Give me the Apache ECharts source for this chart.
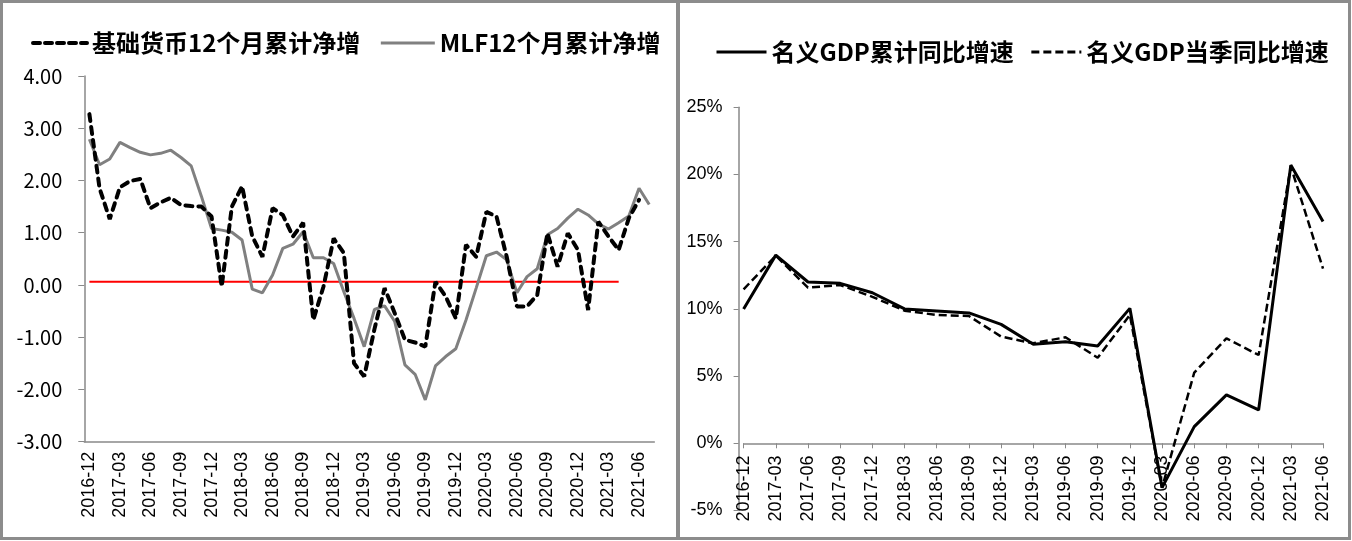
<!DOCTYPE html>
<html>
<head>
<meta charset="utf-8">
<script src="https://cdn.jsdelivr.net/npm/echarts@6/dist/echarts.min.js"></script>
<style>
html,body{margin:0;padding:0;background:#fff;}
#c{width:1352px;height:541px;}
</style>
</head>
<body>
<div id="c"></div>
<script>
// ---- Left panel: monthly ----
var monthLabels = ['2016-12','2017-01','2017-02','2017-03','2017-04','2017-05','2017-06','2017-07','2017-08','2017-09','2017-10','2017-11','2017-12',
'2018-01','2018-02','2018-03','2018-04','2018-05','2018-06','2018-07','2018-08','2018-09','2018-10','2018-11','2018-12',
'2019-01','2019-02','2019-03','2019-04','2019-05','2019-06','2019-07','2019-08','2019-09','2019-10','2019-11','2019-12',
'2020-01','2020-02','2020-03','2020-04','2020-05','2020-06','2020-07','2020-08','2020-09','2020-10','2020-11','2020-12',
'2021-01','2021-02','2021-03','2021-04','2021-05','2021-06','2021-07'];
var baseMoney = [3.27,1.85,1.26,1.87,1.99,2.03,1.47,1.58,1.67,1.53,1.51,1.50,1.31,-0.03,1.50,1.89,0.93,0.54,1.47,1.34,0.93,1.19,-0.67,-0.03,0.89,
0.61,-1.50,-1.75,-0.85,-0.06,-0.54,-1.05,-1.10,-1.18,0.06,-0.22,-0.64,0.77,0.54,1.40,1.31,0.54,-0.41,-0.41,-0.19,0.99,0.35,0.99,0.67,
-0.48,1.21,0.93,0.67,1.28,1.63];
var mlf = [2.79,2.30,2.41,2.73,2.63,2.54,2.49,2.52,2.58,2.44,2.28,1.70,1.08,1.05,1.01,0.86,-0.08,-0.15,0.19,0.70,0.78,1.02,0.52,0.52,0.41,
-0.13,-0.64,-1.18,-0.47,-0.40,-0.70,-1.53,-1.71,-2.20,-1.55,-1.37,-1.22,-0.67,-0.06,0.56,0.63,0.48,-0.15,0.16,0.31,0.96,1.08,1.28,1.45,
1.34,1.17,1.07,1.19,1.32,1.85,1.54];
var refLine = [0.06,0.06,0.06,0.06,0.06,0.06,0.06,0.06,0.06,0.06,0.06,0.06,0.06,0.06,0.06,0.06,0.06,0.06,0.06,0.06,0.06,0.06,0.06,0.06,0.06,
0.06,0.06,0.06,0.06,0.06,0.06,0.06,0.06,0.06,0.06,0.06,0.06,0.06,0.06,0.06,0.06,0.06,0.06,0.06,0.06,0.06,0.06,0.06,0.06,0.06,0.06,0.06,0.06];
var leftYTicks = {min:-3, max:4, interval:1};

// ---- Right panel: quarterly ----
var quarterLabels = ['2016-12','2017-03','2017-06','2017-09','2017-12','2018-03','2018-06','2018-09','2018-12','2019-03','2019-06','2019-09','2019-12',
'2020-03','2020-06','2020-09','2020-12','2021-03','2021-06'];
var gdpCum = [10.0,14.0,12.0,11.9,11.2,10.0,9.85,9.7,8.85,7.37,7.56,7.24,10.04,-3.3,1.24,3.6,2.48,20.7,16.5];
var gdpQtr = [11.46,13.96,11.58,11.78,10.9,9.87,9.55,9.47,7.94,7.44,7.89,6.37,9.55,-3.3,5.26,7.81,6.57,20.6,13.0];
var rightYTicks = {min:-5, max:25, interval:5};

var names = {bm:'基础货币12个月累计净增', mlf:'MLF12个月累计净增', cum:'名义GDP累计同比增速', qtr:'名义GDP当季同比增速'};

var chart = echarts.init(document.getElementById('c'), null, {renderer:'canvas'});
var cjk = "'Noto Sans CJK SC', sans-serif";
var lat = "'Liberation Sans', Arial, sans-serif";
var axisGray = '#898989';

chart.setOption({
  animation:false,
  backgroundColor:'#fff',
  graphic:[
    {type:'rect', shape:{x:1.5, y:1.5, width:676, height:537}, style:{fill:null, stroke:'#8c8c8c', lineWidth:3}, silent:true, z:-1},
    {type:'rect', shape:{x:678.5, y:1.5, width:671, height:537}, style:{fill:null, stroke:'#8c8c8c', lineWidth:3}, silent:true, z:-1}
  ],
  legend:[
    {data:[
       {name:names.bm, lineStyle:{color:'#000', width:4, type:[7,5]}},
       {name:names.mlf, lineStyle:{color:'#808080', width:3}}
     ], left:26, top:26, itemWidth:54, itemHeight:12, itemGap:19,
     itemStyle:{opacity:0},
     textStyle:{fontFamily:cjk, fontSize:24, fontWeight:'bold', color:'#000'}},
    {data:[
       {name:names.cum, lineStyle:{color:'#000', width:3}},
       {name:names.qtr, lineStyle:{color:'#000', width:3, type:[8,4]}}
     ], left:710, top:35, itemWidth:50, itemHeight:12, itemGap:16,
     itemStyle:{opacity:0},
     textStyle:{fontFamily:cjk, fontSize:24, fontWeight:'bold', color:'#000'}}
  ],
  grid:[
    {left:84.3, top:76, width:570, height:365.7, containLabel:false, outerBoundsMode:'none'},
    {left:743.6, top:107.3, width:579.4, height:403.2, containLabel:false, outerBoundsMode:'none'}
  ],
  xAxis:[
    {gridIndex:0, type:'category', data:monthLabels, boundaryGap:true,
     axisLine:{onZero:false, lineStyle:{color:axisGray, width:1.5}},
     axisTick:{interval:2, length:6, lineStyle:{color:axisGray}},
     axisLabel:{interval:2, rotate:90, margin:10, fontFamily:lat, fontSize:18, color:'#000'},
     splitLine:{show:false}},
    {gridIndex:1, type:'category', data:quarterLabels, boundaryGap:false,
     axisLine:{onZero:true, lineStyle:{color:axisGray, width:1.5}},
     axisTick:{interval:0, length:5, lineStyle:{color:axisGray}},
     axisLabel:{interval:0, rotate:90, margin:-55, fontFamily:lat, fontSize:18, color:'#000'},
     splitLine:{show:false}}
  ],
  yAxis:[
    {gridIndex:0, type:'value', min:leftYTicks.min, max:leftYTicks.max, interval:leftYTicks.interval,
     axisLine:{show:true, lineStyle:{color:axisGray, width:1.5}},
     axisTick:{show:true, length:6, lineStyle:{color:axisGray}},
     axisLabel:{margin:22, fontFamily:cjk, fontSize:20, color:'#000', formatter:function(v){return v.toFixed(2);}},
     splitLine:{show:false}},
    {gridIndex:1, type:'value', min:rightYTicks.min, max:rightYTicks.max, interval:rightYTicks.interval, offset:5,
     axisLine:{show:true, lineStyle:{color:axisGray, width:1.5}},
     axisTick:{show:true, length:5, lineStyle:{color:axisGray}},
     axisLabel:{margin:16, fontFamily:lat, fontSize:18, color:'#000', formatter:'{value}%'},
     splitLine:{show:false}}
  ],
  series:[
    {name:'ref', type:'line', xAxisIndex:0, yAxisIndex:0, data:refLine, symbol:'none', silent:true,
     lineStyle:{color:'#ff0000', width:2}, z:1},
    {name:names.mlf, type:'line', xAxisIndex:0, yAxisIndex:0, data:mlf, symbol:'none',
     lineStyle:{color:'#808080', width:3}, itemStyle:{color:'#808080'}, z:2},
    {name:names.bm, type:'line', xAxisIndex:0, yAxisIndex:0, data:baseMoney, symbol:'none',
     lineStyle:{color:'#000', width:4, type:[7,6], cap:'round'}, itemStyle:{color:'#000'}, z:3},
    {name:names.cum, type:'line', xAxisIndex:1, yAxisIndex:1, data:gdpCum, symbol:'none',
     lineStyle:{color:'#000', width:3}, itemStyle:{color:'#000'}, z:3},
    {name:names.qtr, type:'line', xAxisIndex:1, yAxisIndex:1, data:gdpQtr, symbol:'none',
     lineStyle:{color:'#000', width:2.5, type:[8,4]}, itemStyle:{color:'#000'}, z:2}
  ]
});
</script>
</body>
</html>
